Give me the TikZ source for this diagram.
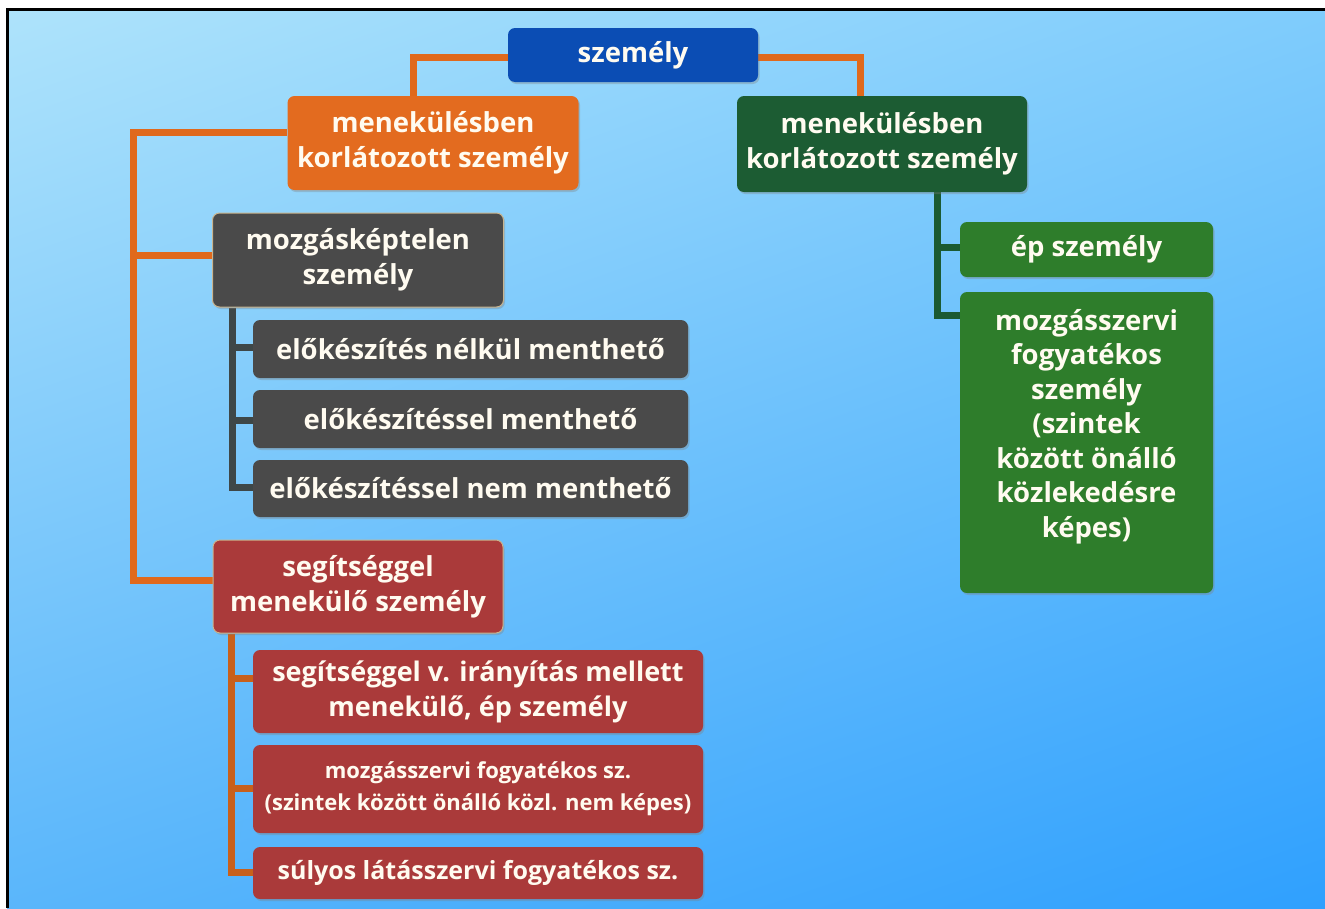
\documentclass[tikz,border=0pt]{standalone}
\usepackage{fontspec}
\setmainfont{Open Sans}
\usetikzlibrary{shadows,shadings}
\definecolor{bgUL}{HTML}{AEE3FB}
\definecolor{bgUR}{HTML}{7FCCFC}
\definecolor{bgLL}{HTML}{5AB6FB}
\definecolor{bgLR}{HTML}{2FA0FE}
\definecolor{cblue}{HTML}{0B4DB4}
\definecolor{corange}{HTML}{E36B1F}
\definecolor{cdkgreen}{HTML}{1C5C33}
\definecolor{cgrey}{HTML}{4A4A4A}
\definecolor{cred}{HTML}{AA3A3A}
\definecolor{cgreen}{HTML}{2E7D2B}
\definecolor{lorange}{HTML}{E0691C}
\definecolor{lgrey}{HTML}{3E4747}
\definecolor{lred}{HTML}{C8601B}
\definecolor{ldkgreen}{HTML}{1B5A32}
\definecolor{ctan}{HTML}{C9B48E}
\definecolor{ctext}{HTML}{FFFBF0}
\pgfdeclarelayer{bg}
\pgfdeclarelayer{lines}
\pgfsetlayers{bg,lines,main}
\begin{document}
\begin{tikzpicture}[x=1pt,y=-1pt,
  box/.style={rounded corners=7pt, inner sep=0pt, align=center, text=ctext,
    font=\bfseries\fontsize{27.5}{35}\selectfont,
    drop shadow={shadow xshift=1.5pt, shadow yshift=-2pt, opacity=0.35}},
  conn/.style={line width=7pt, line join=miter},
  oline/.style={conn, draw=lorange},
  gline/.style={conn, draw=lgrey},
  rline/.style={conn, draw=lred},
  dgline/.style={conn, draw=ldkgreen}]
\useasboundingbox (0,0) rectangle (1325,908);
\begin{pgfonlayer}{bg}
\fill[white] (0,0) rectangle (1325,908);
\shade[upper left=bgUL, upper right=bgUR, lower left=bgLL, lower right=bgLR] (7,9.5) rectangle (1325,908);
\draw[black, line width=3pt] (7,908) -- (7,9.5) -- (1325,9.5);
\end{pgfonlayer}

\node[box, fill=cblue, minimum width=250pt, minimum height=54pt] (root) at (633,55) {személy};
\node[box, fill=corange, minimum width=291pt, minimum height=94pt] (n1) at (433,143) {menekülésben\\korlátozott személy};
\node[box, fill=cdkgreen, minimum width=290pt, minimum height=96pt] (n2) at (882,144) {menekülésben\\korlátozott személy};

\node[box, fill=cgrey, draw=ctan, line width=1pt, minimum width=291pt, minimum height=94pt] (g1) at (358,260) {mozgásképtelen\\személy};
\node[box, fill=cgrey, minimum width=435pt, minimum height=58pt] (g2) at (470.5,349) {előkészítés nélkül menthető};
\node[box, fill=cgrey, minimum width=435pt, minimum height=58pt] (g3) at (470.5,419) {előkészítéssel menthető};
\node[box, fill=cgrey, minimum width=435pt, minimum height=57pt] (g4) at (470.5,488.5) {előkészítéssel nem menthető};

\node[box, fill=cred, draw=ctan, line width=1pt, minimum width=290pt, minimum height=93pt] (r1) at (358,586.5) {segítséggel\\menekülő személy};
\node[box, fill=cred, minimum width=450pt, minimum height=83pt, font=\bfseries\fontsize{27}{35}\selectfont] (r2) at (478,691.5) {segítséggel v. irányítás mellett\\menekülő, ép személy};
\node[box, fill=cred, minimum width=450pt, minimum height=88pt, font=\bfseries\fontsize{22}{32}\selectfont] (r3) at (478,789) {mozgásszervi fogyatékos sz.\\(szintek között önálló közl. nem képes)};
\node[box, fill=cred, minimum width=450pt, minimum height=52pt, font=\bfseries\fontsize{25}{30}\selectfont] (r4) at (478,873) {súlyos látásszervi fogyatékos sz.};

\node[box, fill=cgreen, minimum width=253pt, minimum height=55pt] (e1) at (1086.5,249.5) {ép személy};
\node[box, fill=cgreen, minimum width=253pt, minimum height=301pt, font=\bfseries\fontsize{27.5}{34.5}\selectfont] (e2) at (1086.5,442.5) {mozgásszervi\\fogyatékos\\személy\\(szintek\\között önálló\\közlekedésre\\képes)\\[4pt]};

\begin{pgfonlayer}{lines}
\draw[oline] (root.west |- 0,57) -| (n1.north -| 413,0);
\draw[oline] (root.east |- 0,57) -| (n2.north -| 860,0);
\coordinate (T) at (133,132);
\draw[oline] (n1.west |- T) -- (T) |- (r1.west |- 0,580);
\draw[oline] (T |- 0,255) -- (g1.west |- 0,255);

\coordinate (G) at (232,0);
\draw[gline] (g1.south -| G) |- (g4.west |- 0,487);
\draw[gline] (G |- 0,347) -- (g2.west |- 0,347);
\draw[gline] (G |- 0,420) -- (g3.west |- 0,420);

\coordinate (R) at (231,0);
\draw[rline] (r1.south -| R) |- (r4.west |- 0,872);
\draw[rline] (R |- 0,678) -- (r2.west |- 0,678);
\draw[rline] (R |- 0,788) -- (r3.west |- 0,788);

\coordinate (E) at (937,0);
\draw[dgline] (n2.south -| E) |- (e2.west |- 0,315);
\draw[dgline] (E |- 0,247) -- (e1.west |- 0,247);
\end{pgfonlayer}
\end{tikzpicture}
\end{document}
